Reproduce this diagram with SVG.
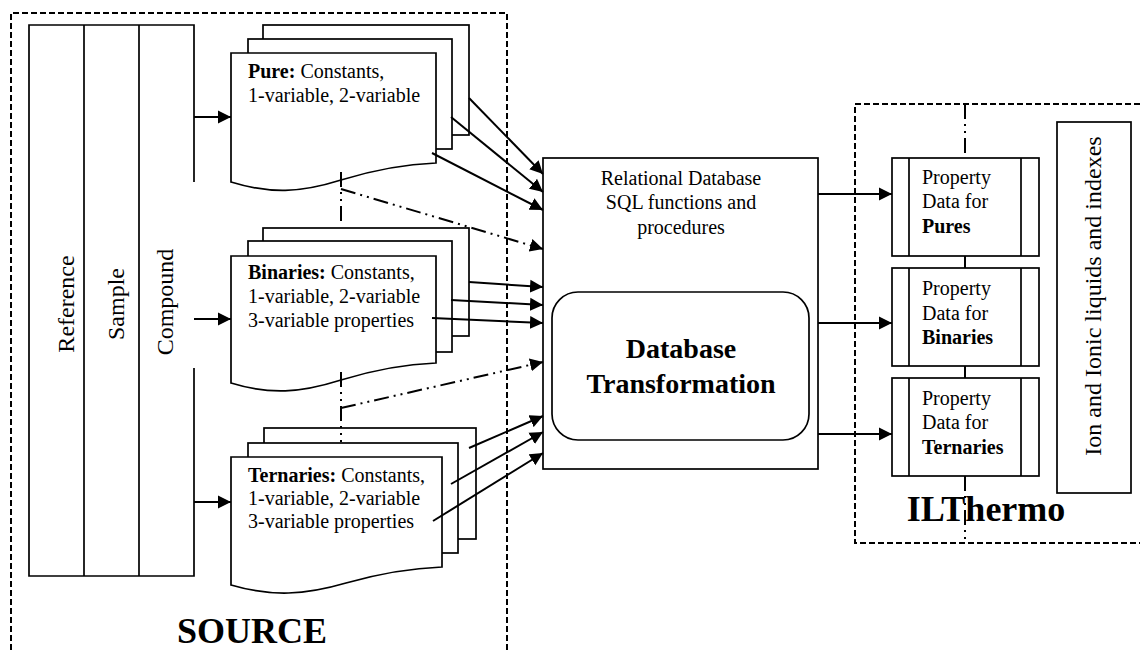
<svg xmlns="http://www.w3.org/2000/svg" width="1140" height="650" viewBox="0 0 1140 650">
<defs>
<style>
.ln{fill:none;stroke:#000;stroke-width:1.7}
.pg{fill:#fff;stroke:#000;stroke-width:1.7}
.dash{fill:none;stroke:#000;stroke-width:2;stroke-dasharray:6 3}
.dd{fill:none;stroke:#000;stroke-width:2;stroke-dasharray:15 5 2 5 2 5}
.ar{fill:none;stroke:#000;stroke-width:2}
.t{font-family:"Liberation Serif","Times New Roman",serif;font-size:20px;fill:#000}
.b{font-weight:bold}
.big{font-family:"Liberation Serif","Times New Roman",serif;font-size:36px;font-weight:bold;fill:#000}
.v{font-family:"Liberation Serif","Times New Roman",serif;font-size:24px;fill:#000}
</style>
<marker id="ah" markerUnits="userSpaceOnUse" markerWidth="14" markerHeight="14" refX="13" refY="7" orient="auto">
<path d="M0,0.5 L13,7 L0,13.5 Z" fill="#000"/>
</marker>
</defs>
<rect width="1140" height="650" fill="#fff"/>

<g id="source-border">
<path class="dash" d="M11,650 V13 H507 V650"/>
<text class="big" x="252" y="643" text-anchor="middle">SOURCE</text>
</g>

<g id="entity-box">
<path class="ln" d="M194,182 V25 H29 V576 H194 V368"/>
<line class="ln" x1="84" y1="25" x2="84" y2="576"/>
<line class="ln" x1="139" y1="25" x2="139" y2="576"/>
<text class="v" transform="translate(74,304) rotate(-90)" text-anchor="middle">Reference</text>
<text class="v" transform="translate(124,304) rotate(-90)" text-anchor="middle">Sample</text>
<text class="v" transform="translate(173,302) rotate(-90)" text-anchor="middle">Compound</text>
</g>

<g id="pure">
<rect class="pg" x="263" y="25" width="206" height="110"/>
<rect class="pg" x="248" y="39" width="204" height="110"/>
<path class="pg" d="M231,53 H436 V163 C410,164 380,168 341,180 C300,193 270,194 231,182 Z"/>
<text class="t" x="248" y="78"><tspan class="b">Pure:</tspan> Constants,</text>
<text class="t" x="248" y="102">1-variable, 2-variable</text>
</g>

<g id="binaries">
<rect class="pg" x="263" y="228" width="206" height="108"/>
<rect class="pg" x="248" y="241" width="204" height="111"/>
<path class="pg" d="M231,256 H436 V363 C410,364 380,368 341,380 C300,393 270,395 231,383 Z"/>
<text class="t" x="248" y="279"><tspan class="b">Binaries:</tspan> Constants,</text>
<text class="t" x="248" y="303">1-variable, 2-variable</text>
<text class="t" x="248" y="327">3-variable properties</text>
</g>

<g id="ternaries">
<rect class="pg" x="264" y="428" width="212" height="111"/>
<rect class="pg" x="248" y="443" width="210" height="110"/>
<path class="pg" d="M231,457 H442 V567 C415,568 385,572 346,583 C305,595 272,597 231,585 Z"/>
<text class="t" x="248" y="482"><tspan class="b">Ternaries:</tspan> Constants,</text>
<text class="t" x="248" y="505">1-variable, 2-variable</text>
<text class="t" x="248" y="528">3-variable properties</text>
</g>

<g id="database">
<rect class="ln" x="543" y="158" width="275" height="311"/>
<text class="t" x="681" y="185" text-anchor="middle">Relational Database</text>
<text class="t" x="681" y="209" text-anchor="middle">SQL functions and</text>
<text class="t" x="681" y="234" text-anchor="middle">procedures</text>
<rect class="ln" x="552" y="292" width="257" height="148" rx="26" ry="26"/>
<text class="t b" x="681" y="358" text-anchor="middle" style="font-size:28px">Database</text>
<text class="t b" x="681" y="393" text-anchor="middle" style="font-size:28px">Transformation</text>
</g>

<g id="ilthermo-border">
<path class="dash" d="M1140,104 H855 V543 H1140"/>
<text class="big" x="986" y="521" text-anchor="middle">ILThermo</text>
</g>

<g id="prop-pures">
<rect class="ln" x="892" y="158" width="147" height="98"/>
<line class="ln" x1="909" y1="158" x2="909" y2="256"/>
<line class="ln" x1="1021" y1="158" x2="1021" y2="256"/>
<text class="t" x="922" y="184">Property</text>
<text class="t" x="922" y="208">Data for</text>
<text class="t b" x="922" y="233">Pures</text>
</g>

<g id="prop-binaries">
<rect class="ln" x="892" y="268" width="147" height="98"/>
<line class="ln" x1="909" y1="268" x2="909" y2="366"/>
<line class="ln" x1="1021" y1="268" x2="1021" y2="366"/>
<text class="t" x="922" y="295">Property</text>
<text class="t" x="922" y="320">Data for</text>
<text class="t b" x="922" y="344">Binaries</text>
</g>

<g id="prop-ternaries">
<rect class="ln" x="892" y="378" width="147" height="98"/>
<line class="ln" x1="909" y1="378" x2="909" y2="476"/>
<line class="ln" x1="1021" y1="378" x2="1021" y2="476"/>
<text class="t" x="922" y="405">Property</text>
<text class="t" x="922" y="429">Data for</text>
<text class="t b" x="922" y="454">Ternaries</text>
</g>

<g id="ions">
<rect class="ln" x="1057" y="122" width="74" height="371"/>
<text class="v" transform="translate(1101,296) rotate(-90)" text-anchor="middle">Ion and Ionic liquids and indexes</text>
</g>

<g id="connectors">
<line class="ar" x1="194" y1="117" x2="231" y2="117" marker-end="url(#ah)"/>
<line class="ar" x1="194" y1="319" x2="231" y2="319" marker-end="url(#ah)"/>
<line class="ar" x1="194" y1="502" x2="231" y2="502" marker-end="url(#ah)"/>

<line class="ar" x1="469" y1="98" x2="543" y2="174" marker-end="url(#ah)"/>
<line class="ar" x1="451" y1="117" x2="543" y2="192" marker-end="url(#ah)"/>
<line class="ar" x1="432" y1="153" x2="543" y2="210" marker-end="url(#ah)"/>

<line class="ar" x1="469" y1="282" x2="543" y2="287" marker-end="url(#ah)"/>
<line class="ar" x1="451" y1="300" x2="543" y2="305" marker-end="url(#ah)"/>
<line class="ar" x1="432" y1="318" x2="543" y2="323" marker-end="url(#ah)"/>

<line class="ar" x1="469" y1="448" x2="543" y2="416" marker-end="url(#ah)"/>
<line class="ar" x1="451" y1="484" x2="543" y2="432" marker-end="url(#ah)"/>
<line class="ar" x1="433" y1="521" x2="543" y2="453" marker-end="url(#ah)"/>

<line class="dd" x1="341" y1="172" x2="341" y2="226"/>
<path class="dd" d="M341,189 L543,249" marker-end="url(#ah)"/>
<line class="dd" x1="341" y1="372" x2="341" y2="442"/>
<path class="dd" d="M341,408 L543,362" marker-end="url(#ah)"/>

<line class="ar" x1="818" y1="194" x2="892" y2="194" marker-end="url(#ah)"/>
<line class="ar" x1="818" y1="323" x2="892" y2="323" marker-end="url(#ah)"/>
<line class="ar" x1="818" y1="434" x2="892" y2="434" marker-end="url(#ah)"/>

<line class="dd" x1="965" y1="104" x2="965" y2="158"/>
<line class="dd" x1="965" y1="256" x2="965" y2="268"/>
<line class="dd" x1="965" y1="366" x2="965" y2="378"/>
<line class="dd" x1="965" y1="476" x2="965" y2="543"/>
</g>
</svg>
